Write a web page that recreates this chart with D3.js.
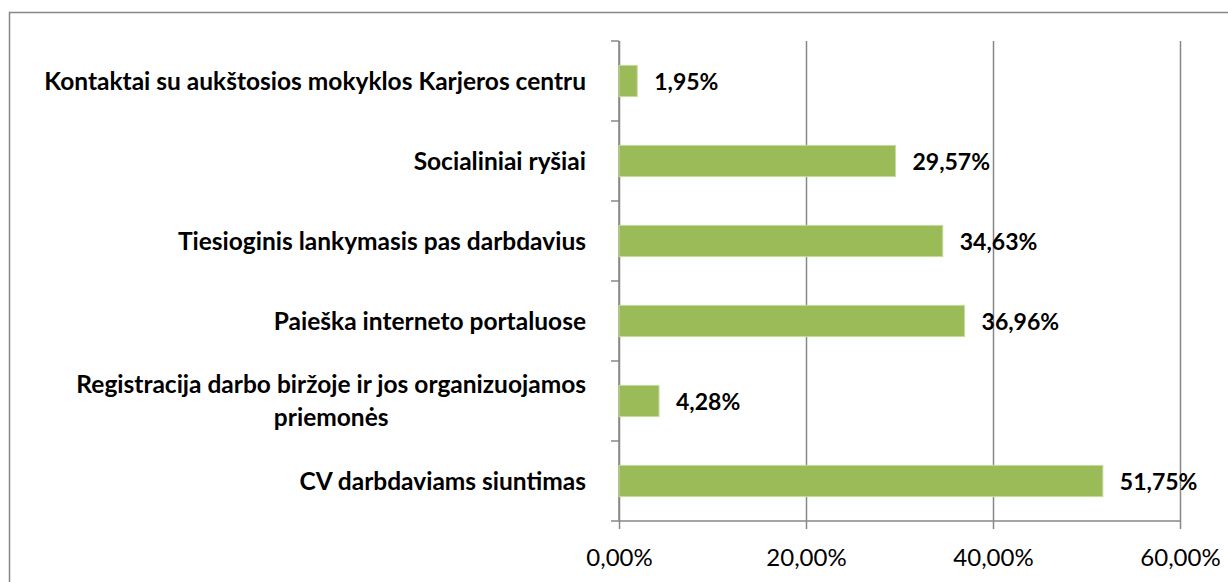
<!DOCTYPE html>
<html>
<head>
<meta charset="utf-8">
<script src="https://cdn.jsdelivr.net/npm/d3@7"></script>
<style>
  html, body { margin: 0; padding: 0; background: #fff; }
  svg { display: block; }
</style>
</head>
<body>
<svg id="chart" width="1228" height="582"></svg>
<script>
const categories = [
  "Kontaktai su aukštosios mokyklos Karjeros centru",
  "Socialiniai ryšiai",
  "Tiesioginis lankymasis pas darbdavius",
  "Paieška interneto portaluose",
  "Registracija darbo biržoje ir jos organizuojamos\npriemonės",
  "CV darbdaviams siuntimas"
];
const values = [1.95, 29.57, 34.63, 36.96, 4.28, 51.75];
const xTicks = [0, 20, 40, 60];

const W = 1228, H = 582;
const plot = { left: 619, right: 1180, top: 41, bottom: 521 };
const FONT = "Lato, 'Open Sans', sans-serif";
const GRID = "#878787";

const loc = d3.formatLocale({ decimal: ",", thousands: " ", grouping: [3], currency: ["", "€"] });
const fmt = v => loc.format(".2f")(v) + "%";

const svg = d3.select("#chart");

// outer frame
svg.append("rect")
  .attr("x", 9.5).attr("y", 12.5)
  .attr("width", 1240).attr("height", 620)
  .attr("fill", "#fff").attr("stroke", GRID).attr("stroke-width", 1.5);

const x = d3.scaleLinear().domain([0, 60]).range([plot.left, plot.right]);
const y = d3.scaleBand().domain(categories).range([plot.top, plot.bottom])
  .paddingInner(0.61).paddingOuter(0.305);

// vertical gridlines + tick labels via axis
const xAxis = d3.axisBottom(x)
  .tickValues(xTicks)
  .tickFormat(d => fmt(d))
  .tickSize(-(plot.bottom - plot.top))
  .tickPadding(0);

const gx = svg.append("g")
  .attr("transform", `translate(0,${plot.bottom})`)
  .call(xAxis);
gx.select(".domain").remove();
gx.selectAll(".tick line")
  .attr("stroke", GRID).attr("stroke-width", 1.5)
  .attr("y2", -(plot.bottom - plot.top)).attr("y1", 8);
gx.selectAll(".tick text")
  .attr("y", 37).attr("dy", "0.35em")
  .attr("font-family", FONT).attr("font-size", 24)
  .attr("fill", "#000");

// horizontal axis line
svg.append("line")
  .attr("x1", x(0)).attr("x2", x(60))
  .attr("y1", plot.bottom).attr("y2", plot.bottom)
  .attr("stroke", GRID).attr("stroke-width", 1.5);

// category axis line + ticks at band boundaries
svg.append("line")
  .attr("x1", x(0)).attr("x2", x(0))
  .attr("y1", plot.top).attr("y2", plot.bottom)
  .attr("stroke", GRID).attr("stroke-width", 1.5);
const boundaries = d3.range(categories.length + 1).map(i => plot.top + i * y.step());
svg.append("g").selectAll("line").data(boundaries).join("line")
  .attr("x1", x(0) - 8).attr("x2", x(0))
  .attr("y1", d => d).attr("y2", d => d)
  .attr("stroke", GRID).attr("stroke-width", 1.5);

// bars
svg.append("g").selectAll("rect").data(categories).join("rect")
  .attr("x", x(0))
  .attr("y", d => y(d))
  .attr("width", (d, i) => x(values[i]) - x(0))
  .attr("height", y.bandwidth())
  .attr("fill", "#9bbb59")
  .attr("stroke", "#c6dc9e").attr("stroke-width", 1);

// value labels
svg.append("g").selectAll("text").data(categories).join("text")
  .attr("x", (d, i) => x(values[i]) + 17)
  .attr("y", d => y(d) + y.bandwidth() / 2 + 1)
  .attr("dy", "0.35em")
  .attr("font-family", FONT).attr("font-weight", "bold").attr("font-size", 23)
  .attr("fill", "#000")
  .text((d, i) => fmt(values[i]));

// category labels (multi-line centred block, right-aligned)
const labelRight = x(0) - 33;
const lineH = 33;
const gl = svg.append("g");
categories.forEach(c => {
  const lines = c.split("\n");
  const cy = y(c) + y.bandwidth() / 2;
  const t = gl.append("text")
    .attr("font-family", FONT).attr("font-weight", "bold").attr("font-size", 24.5)
    .attr("fill", "#000");
  lines.forEach((ln, k) => {
    t.append("tspan")
      .attr("y", cy + (k - (lines.length - 1) / 2) * lineH)
      .attr("dy", "0.35em")
      .text(ln);
  });
  if (lines.length === 1) {
    t.attr("text-anchor", "end").selectAll("tspan").attr("x", labelRight);
  } else {
    let maxW = 0;
    t.selectAll("tspan").each(function () { maxW = Math.max(maxW, this.getComputedTextLength()); });
    t.attr("text-anchor", "middle").selectAll("tspan").attr("x", labelRight - maxW / 2);
  }
});
</script>
</body>
</html>
